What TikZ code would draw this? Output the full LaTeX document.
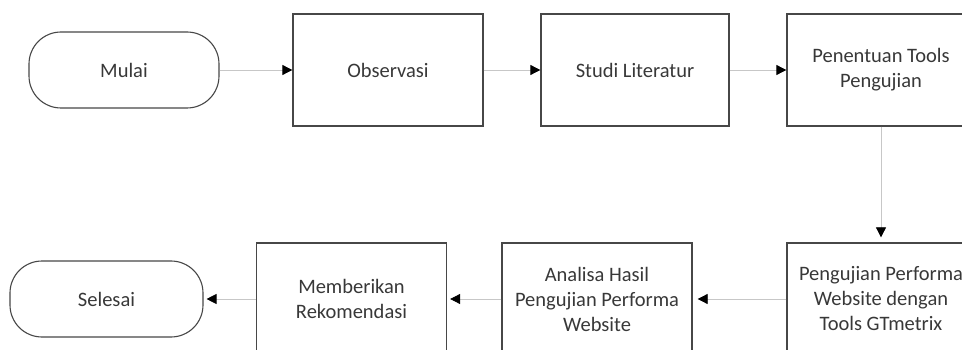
\documentclass[tikz,border=0pt]{standalone}
\usepackage{fontspec}
\setmainfont{Carlito}
\usetikzlibrary{arrows.meta, positioning}
\colorlet{myline}{black!72}
\colorlet{mytext}{black!78}
\colorlet{myedge}{black!22}
\tikzset{
  base node/.style={draw=myline, line width=1.3pt, align=center, text=mytext,
    font=\fontsize{20.5}{25}\selectfont, inner sep=0pt},
  proc box/.style={base node, rectangle, minimum width=190pt, minimum height=112pt},
  term node/.style={base node, rectangle, rounded corners=32pt, line width=1.1pt,
    minimum width=190pt, minimum height=76pt},
  flow edge/.style={-{Triangle[length=10pt, width=10pt, color=black]}, draw=myedge, line width=0.8pt}
}
\begin{document}
\begin{tikzpicture}[x=1pt, y=-1pt]

  % canvas (the right and bottom boxes run past the edge)
  \useasboundingbox (0,0) rectangle (962,350);
  \clip (0,0) rectangle (962,350);

  % =========================================================
  % TOP ROW
  % =========================================================
  \node[term node] (Mulai) at (124, 70) {Mulai};
  \node[proc box] (Obs) at (388, 70) {Observasi};
  \node[proc box, minimum width=188pt] (Studi) at (635, 70) {Studi Literatur};
  \node[proc box, minimum width=188pt] (Tools) at (881, 70) {Penentuan Tools\\Pengujian};

  % =========================================================
  % BOTTOM ROW
  % =========================================================
  \node[proc box, minimum width=188pt] (Uji) at (881, 299) {Pengujian Performa\\Website dengan\\Tools GTmetrix};
  \node[proc box] (Analisa) at (597, 299) {Analisa Hasil\\Pengujian Performa\\Website};
  \node[proc box] (Saran) at (351.5, 299) {Memberikan\\Rekomendasi};
  \node[term node, minimum width=193pt] (Selesai) at (106.5, 299) {Selesai};

  % =========================================================
  % FLOW
  % =========================================================
  \draw[flow edge] (Mulai) -- (Obs);
  \draw[flow edge] (Obs) -- (Studi);
  \draw[flow edge] (Studi) -- (Tools);
  \draw[flow edge, shorten >=5pt] (Tools) -- (Uji);
  \draw[flow edge, shorten >=5pt] (Uji) -- (Analisa);
  \draw[flow edge, shorten >=3pt] (Analisa) -- (Saran);
  \draw[flow edge, shorten >=3pt] (Saran) -- (Selesai);

\end{tikzpicture}
\end{document}
